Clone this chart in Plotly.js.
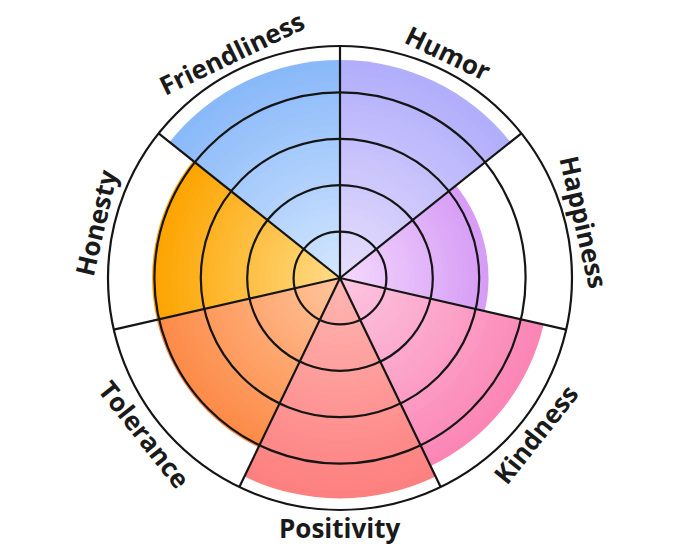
<!DOCTYPE html>
<html><head><meta charset="utf-8">
<script src="https://cdn.plot.ly/plotly-3.0.1.min.js"></script>
<style>html,body{margin:0;padding:0;background:#fff}</style>
</head><body><div id="chart" style="width:680px;height:557px"></div>
<script>
const categories = ['Humor','Happiness','Kindness','Positivity','Tolerance','Honesty','Friendliness'];
const values = [4.7, 3.2, 4.5, 4.75, 4.05, 4.05, 4.7];
const outerColors = ['#b1aefb','#d69cf6','#fb86b5','#fd8080','#fd8b48','#fda400','#8ab9f9'];
const innerColors = ['#e6defd','#f4d8fd','#fdc6e0','#ffb6b2','#ffc49b','#ffdb86','#d2e6fe'];
const gridValues = [1, 2, 3, 4];
const radialMax = 5;

const n = categories.length;
const step = 360 / n;
const thetas = categories.map((c, i) => i * step + step / 2);
const boundaries = categories.map((c, i) => i * step);

function hex(c){return [1,3,5].map(j=>parseInt(c.slice(j,j+2),16));}
function mix(a,b,t){const A=hex(a),B=hex(b);return 'rgb('+A.map((v,j)=>Math.round(v+(B[j]-v)*t)).join(',')+')';}

const N = 30;
const traces = [];
for (let k = 0; k < N; k++) {
  const f = 1 - k / N;
  traces.push({
    type: 'barpolar', subplot: 'polar',
    r: values.map(v => v * f),
    theta: thetas,
    width: categories.map(() => step),
    marker: {color: outerColors.map((c, i) => mix(c, innerColors[i], k / (N - 1))), line: {width: 0}},
    hoverinfo: 'skip', showlegend: false
  });
}
traces.push({type:'scatterpolar', subplot:'polar2', r:[0], theta:[0], mode:'markers',
  marker:{opacity:0}, hoverinfo:'skip', showlegend:false});

const lineColor = '#151515';
const R = 232, labelR = 250;
const annotations = categories.map((c, i) => {
  const a = thetas[i];
  const rad = a * Math.PI / 180;
  let ang = a;
  if (a > 90 && a < 270) ang = a - 180; else if (a >= 270) ang = a - 360;
  return {
    xref:'paper', yref:'paper', showarrow:false,
    x: 0.5 + 0.5 * (labelR / R) * Math.sin(rad),
    y: 0.5 + 0.5 * (labelR / R) * Math.cos(rad),
    xanchor:'center', yanchor:'middle',
    text: c, textangle: ang,
    font:{family:'Open Sans', size:26, color:'#1a1a1a', weight:700}
  };
});

const layout = {
  width:680, height:557,
  margin:{l:108, r:108, t:46, b:47},
  paper_bgcolor:'#fff',
  showlegend:false,
  polar:{
    domain:{x:[0,1], y:[0,1]}, bgcolor:'#fff', barmode:'overlay',
    radialaxis:{range:[0, radialMax], visible:false},
    angularaxis:{type:'linear', thetaunit:'degrees', direction:'clockwise', rotation:90, visible:false}
  },
  polar2:{
    domain:{x:[0,1], y:[0,1]}, bgcolor:'rgba(0,0,0,0)',
    radialaxis:{range:[0, radialMax], tickvals:gridValues, showticklabels:false, ticks:'',
      showline:false, gridcolor:lineColor, gridwidth:2.2},
    angularaxis:{type:'linear', thetaunit:'degrees', direction:'clockwise', rotation:90,
      tickvals:boundaries, showticklabels:false, ticks:'', gridcolor:lineColor, gridwidth:2.2,
      showline:true, linecolor:lineColor, linewidth:2.2}
  },
  annotations: annotations
};
Plotly.newPlot('chart', traces, layout, {staticPlot:true});
</script></body></html>
